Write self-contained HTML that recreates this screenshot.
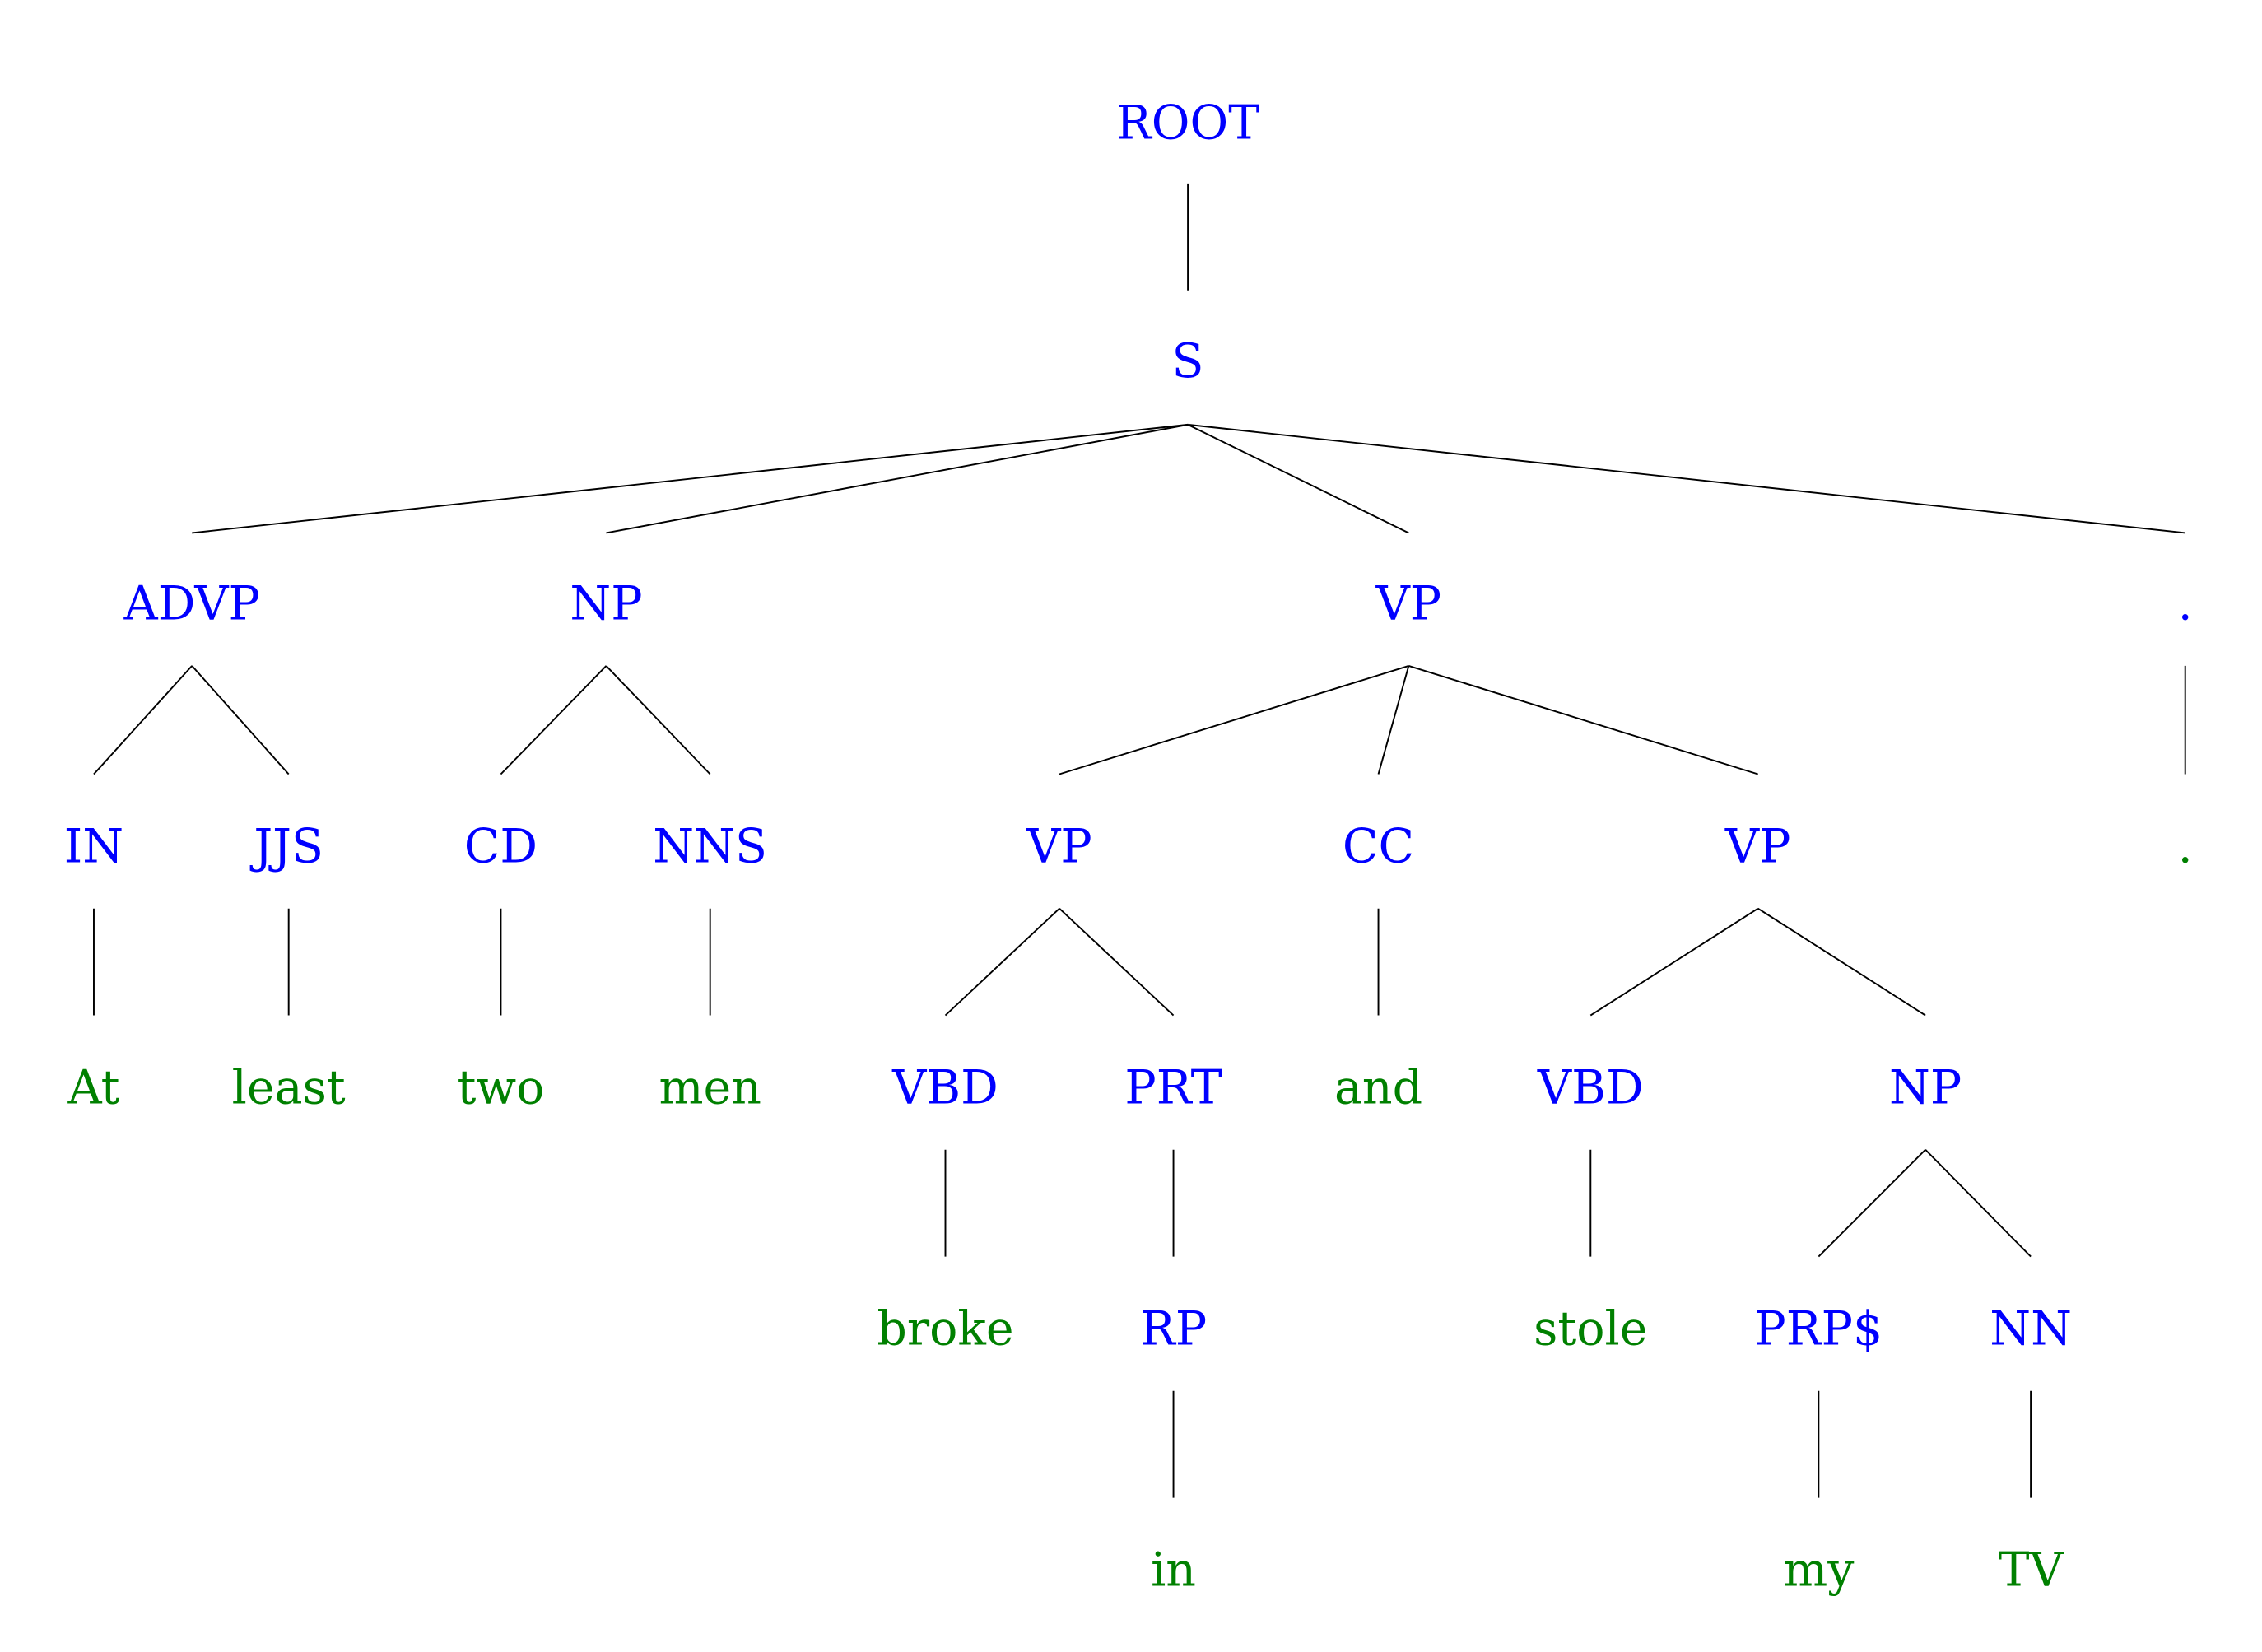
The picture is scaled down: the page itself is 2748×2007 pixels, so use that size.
<!DOCTYPE html>
<html><head><meta charset="utf-8"><style>html,body{margin:0;padding:0;background:#fff}svg{display:block}</style></head><body>
<svg width="2748" height="2007" viewBox="0 0 1567.2 1143.8" preserveAspectRatio="none" xmlns="http://www.w3.org/2000/svg">
<g stroke="#000" stroke-width="1.1" fill="none">
<line x1="823" y1="127" x2="823" y2="201"/>
<line x1="823" y1="294" x2="133" y2="369"/>
<line x1="823" y1="294" x2="420" y2="369"/>
<line x1="823" y1="294" x2="976" y2="369"/>
<line x1="823" y1="294" x2="1514" y2="369"/>
<line x1="133" y1="461" x2="65" y2="536"/>
<line x1="133" y1="461" x2="200" y2="536"/>
<line x1="420" y1="461" x2="347" y2="536"/>
<line x1="420" y1="461" x2="492" y2="536"/>
<line x1="976" y1="461" x2="734" y2="536"/>
<line x1="976" y1="461" x2="955" y2="536"/>
<line x1="976" y1="461" x2="1218" y2="536"/>
<line x1="1514" y1="461" x2="1514" y2="536"/>
<line x1="65" y1="629" x2="65" y2="703"/>
<line x1="200" y1="629" x2="200" y2="703"/>
<line x1="347" y1="629" x2="347" y2="703"/>
<line x1="492" y1="629" x2="492" y2="703"/>
<line x1="734" y1="629" x2="655" y2="703"/>
<line x1="734" y1="629" x2="813" y2="703"/>
<line x1="955" y1="629" x2="955" y2="703"/>
<line x1="1218" y1="629" x2="1102" y2="703"/>
<line x1="1218" y1="629" x2="1334" y2="703"/>
<line x1="655" y1="796" x2="655" y2="870"/>
<line x1="813" y1="796" x2="813" y2="870"/>
<line x1="1102" y1="796" x2="1102" y2="870"/>
<line x1="1334" y1="796" x2="1260" y2="870"/>
<line x1="1334" y1="796" x2="1407" y2="870"/>
<line x1="813" y1="963" x2="813" y2="1037"/>
<line x1="1260" y1="963" x2="1260" y2="1037"/>
<line x1="1407" y1="963" x2="1407" y2="1037"/>
</g>
<g font-family="'DejaVu Serif', serif" font-size="32.5" text-anchor="middle" fill="#0000ff">
<text x="823" y="96">ROOT</text>
<text x="823" y="261">S</text>
<text x="133" y="429">ADVP</text>
<text x="420" y="429">NP</text>
<text x="976" y="429">VP</text>
<text x="1514" y="429">.</text>
<text x="65" y="597">IN</text>
<text x="200" y="597">JJS</text>
<text x="347" y="597">CD</text>
<text x="492" y="597">NNS</text>
<text x="734" y="597">VP</text>
<text x="955" y="597">CC</text>
<text x="1218" y="597">VP</text>
<text x="655" y="764">VBD</text>
<text x="813" y="764">PRT</text>
<text x="1102" y="764">VBD</text>
<text x="1334" y="764">NP</text>
<text x="813" y="931">RP</text>
<text x="1260" y="931">PRP$</text>
<text x="1407" y="931">NN</text>
</g>
<g font-family="'DejaVu Serif', serif" font-size="32.5" text-anchor="middle" fill="#008000">
<text x="1514" y="597">.</text>
<text x="65" y="764">At</text>
<text x="200" y="764">least</text>
<text x="347" y="764">two</text>
<text x="492" y="764">men</text>
<text x="955" y="764">and</text>
<text x="655" y="931">broke</text>
<text x="1102" y="931">stole</text>
<text x="813" y="1098">in</text>
<text x="1260" y="1098">my</text>
<text x="1407" y="1098">TV</text>
</g>
</svg>
</body></html>
